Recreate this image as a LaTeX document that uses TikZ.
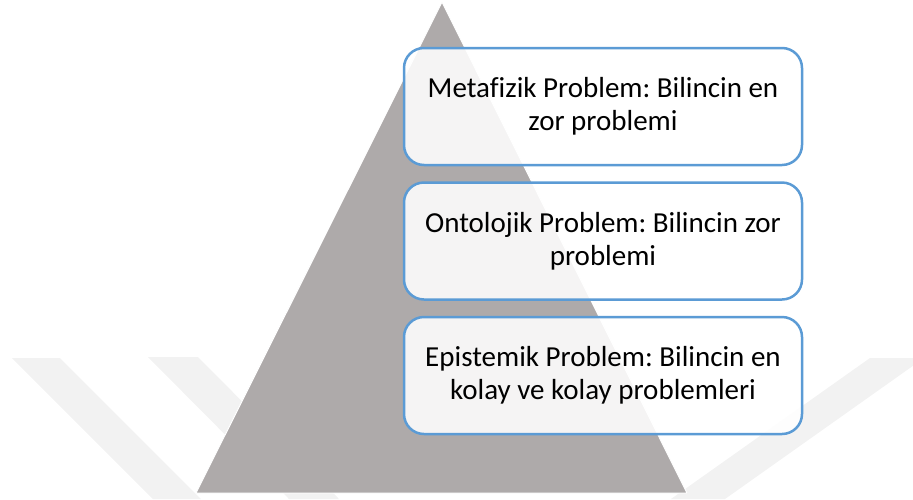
\documentclass[tikz,border=0pt]{standalone}
\usepackage{fontspec}
\setmainfont{Carlito}[Ligatures=NoCommon]
\usetikzlibrary{positioning}
\definecolor{pyrgray}{HTML}{AEAAAA}
\definecolor{tierblue}{HTML}{5B9BD5}
\definecolor{markgray}{HTML}{F2F2F2}
\frenchspacing
\tikzset{
  tierbox/.style={
    draw=tierblue, line width=2.5pt, rounded corners=20pt,
    fill=white, fill opacity=.88, text opacity=1,
    minimum width=398pt, minimum height=117pt, inner sep=0pt,
    align=center, font=\fontsize{29}{33}\selectfont
  }
}
\begin{document}
\begin{tikzpicture}[
    x=1pt, y=-1pt,
    line join=round,
    node distance=15pt
]
  \useasboundingbox (0,0) rectangle (913,499);
  % faint watermark bands
  \fill[markgray] 
    (12,358) -- (60,358) -- (201,499) -- (153,499) -- cycle
    (148,357) -- (198,357) -- (339,499) -- (289,499) -- cycle
    (870,358) -- (924,358) -- (725,499) -- (671,499) -- cycle
  ;
  % pyramid
  \fill[pyrgray, draw=white, line width=1pt] 
    (442,2) -- (687,493) -- (196,493) -- cycle
  ;
  % tiers
  \node[tierbox] (meta) at (603,106.5) 
    {Metafizik Problem: Bilincin en\\zor problemi};
  \node[tierbox, below=of meta] (onto) 
    {Ontolojik Problem: Bilincin zor\\problemi};
  \node[tierbox, below=of onto] (epis) 
    {Epistemik Problem: Bilincin en\\kolay ve kolay problemleri};
\end{tikzpicture}
\end{document}
